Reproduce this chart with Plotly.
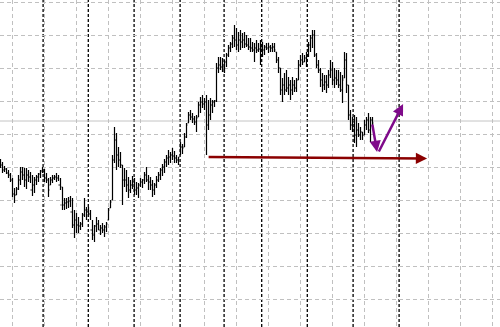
import plotly.graph_objects as go

# OHLC bars (price units, higher = up), one per bar index
high = [171,168,164,162,160,157,152,142,143,155,163,163,162,162,160,158,155,153,155,157,
        160,163,161,157,152,153,155,155,157,155,152,143,132,132,133,134,132,120,117,113,
        108,117,132,123,123,120,110,105,113,110,105,
        107,105,108,122,130,175,203,197,183,178,165,162,160,153,150,154,152,148,147,152,
        151,158,163,155,153,150,147,154,158,162,166,171,175,180,178,182,179,175,173,188,
        186,197,207,218,220,217,214,
        215,228,233,235,232,235,230,232,230,230,267,273,273,272,270,277,285,288,295,305,
        302,298,300,297,298,295,292,292,288,287,290,287,290,288,285,287,287,285,287,287,
        278,273,262,252,257,260,253,
        250,253,250,252,270,275,277,275,278,288,295,300,300,277,270,262,257,255,255,260,
        270,268,262,260,260,258,255,278,277,245,220,213,215,213,207,203,198,210,213,217,
        213,213]
low = [162,157,158,156,152,148,133,127,135,140,145,150,143,141,148,147,134,137,145,148,
       152,157,148,147,133,145,147,150,148,149,140,120,120,121,122,123,102,92,97,97,
       100,103,113,110,113,110,90,88,98,100,95,
       97,93,98,110,122,130,167,160,163,162,125,143,138,132,137,141,135,135,132,143,
       142,146,148,140,140,133,135,142,148,150,154,157,163,165,167,170,167,167,165,175,
       176,183,192,207,210,207,205,
       198,213,217,222,220,175,200,210,217,223,228,257,260,258,257,263,273,278,282,283,
       280,278,280,282,282,283,280,278,278,268,277,278,265,273,275,280,277,278,278,278,
       267,257,235,228,235,238,235,
       230,235,238,238,250,263,265,268,263,273,278,282,273,262,257,243,238,240,237,242,
       252,245,242,245,242,238,227,252,237,210,200,198,187,183,193,190,190,195,200,197,
       188,203]
open_ = [170,165,160,161,157,155,150,136,135,141,150,158,155,150,155,153,140,145,150,153,
         156,159,158,152,150,145,150,152,153,152,145,143,125,127,128,129,118,105,110,105,
         104,106,115,120,118,116,100,95,104,106,100,
         102,100,103,110,122,130,170,190,175,170,165,150,150,145,140,145,148,140,142,145,
         148,150,155,150,148,145,140,145,150,155,160,163,168,172,173,175,174,172,170,175,
         183,183,193,207,215,213,211,
         208,213,225,228,226,228,205,215,225,228,229,262,265,263,262,268,275,282,286,292,
         290,285,290,288,290,286,285,283,282,280,282,280,281,282,280,283,282,283,282,283,
         278,270,262,240,245,240,242,
         245,240,245,242,250,265,270,268,272,275,285,292,295,275,265,260,250,245,248,245,
         255,260,250,252,250,245,240,252,270,245,215,205,208,195,200,195,198,195,205,210,
         200,210]
close = [165,160,161,157,155,150,136,135,141,150,158,155,150,155,153,140,145,150,153,156,
         159,158,152,150,140,150,152,153,152,145,125,125,127,128,129,118,105,110,105,104,
         106,115,120,118,116,100,95,104,106,100,102,
         100,103,106,120,128,170,190,175,170,165,150,150,145,140,145,148,140,142,145,148,
         150,155,150,148,145,140,145,150,155,160,163,168,172,173,175,174,172,170,173,183,
         182,193,205,215,213,211,208,
         212,225,228,226,228,205,215,225,228,229,262,265,263,262,268,275,282,286,292,290,
         285,290,288,290,286,285,283,282,280,282,280,281,282,280,283,282,283,282,283,280,
         270,262,240,245,240,242,245,
         240,245,242,250,265,270,268,272,275,285,292,295,275,265,260,250,245,248,245,255,
         260,250,252,250,245,240,250,270,245,215,205,208,195,200,195,198,195,205,210,200,
         210,207]
bar_index = list(range(len(high)))

# period separators (bar positions) and bid level
separators = [21.3, 43.9, 66.8, 89.8, 111.8, 130.6, 153.4, 176.3, 199.3]
bid_level = 209

# analysis arrows: (x_from, y_from, x_to, y_to)
red_arrow = (103.3, 173, 213.3, 171.5)
purple_down = (185.8, 207, 188.3, 178)
purple_up = (188.8, 177, 201.3, 226)

fig = go.Figure()
fig.add_trace(go.Ohlc(
    x=bar_index, open=open_, high=high, low=low, close=close,
    increasing=dict(line=dict(color="#000000", width=1.2)),
    decreasing=dict(line=dict(color="#000000", width=1.2)),
    tickwidth=0.5, showlegend=False, hoverinfo="skip"))

shapes = []
for s in separators:
    shapes.append(dict(type="line", xref="x", yref="paper", x0=s, x1=s, y0=0, y1=1,
                       line=dict(color="#000000", width=1.3, dash="3px,2px"), layer="below"))
shapes.append(dict(type="line", xref="paper", yref="y", x0=0, x1=1, y0=bid_level, y1=bid_level,
                   line=dict(color="#c4c4c4", width=1), layer="below"))
fig.update_layout(shapes=shapes)

def arrow(a, color, width, size):
    x0, y0, x1, y1 = a
    fig.add_annotation(x=x1, y=y1, ax=x0, ay=y0, xref="x", yref="y", axref="x", ayref="y",
                       text="", showarrow=True, arrowhead=2, arrowsize=size,
                       arrowwidth=width, arrowcolor=color, standoff=0, startstandoff=0)

arrow(red_arrow, "#8b0000", 2.5, 0.9)
arrow(purple_down, "#7f0a8a", 2.5, 0.9)
arrow(purple_up, "#7f0a8a", 2.5, 0.9)

fig.update_layout(
    width=500, height=327, margin=dict(l=0, r=0, t=0, b=0),
    paper_bgcolor="white", plot_bgcolor="white",
    xaxis=dict(range=[-0.25, 249.75], showticklabels=False, ticks="", zeroline=False,
               showgrid=True, tick0=5.75, dtick=16, gridcolor="#c0c0c0", griddash="4px,3px",
               gridwidth=1, rangeslider=dict(visible=False), showline=False, fixedrange=True),
    yaxis=dict(range=[3, 330], showticklabels=False, ticks="", zeroline=False,
               showgrid=True, tick0=31, dtick=32.9, gridcolor="#c0c0c0", griddash="4px,3px",
               gridwidth=1, showline=False, fixedrange=True),
)
fig.write_html("out.html")
